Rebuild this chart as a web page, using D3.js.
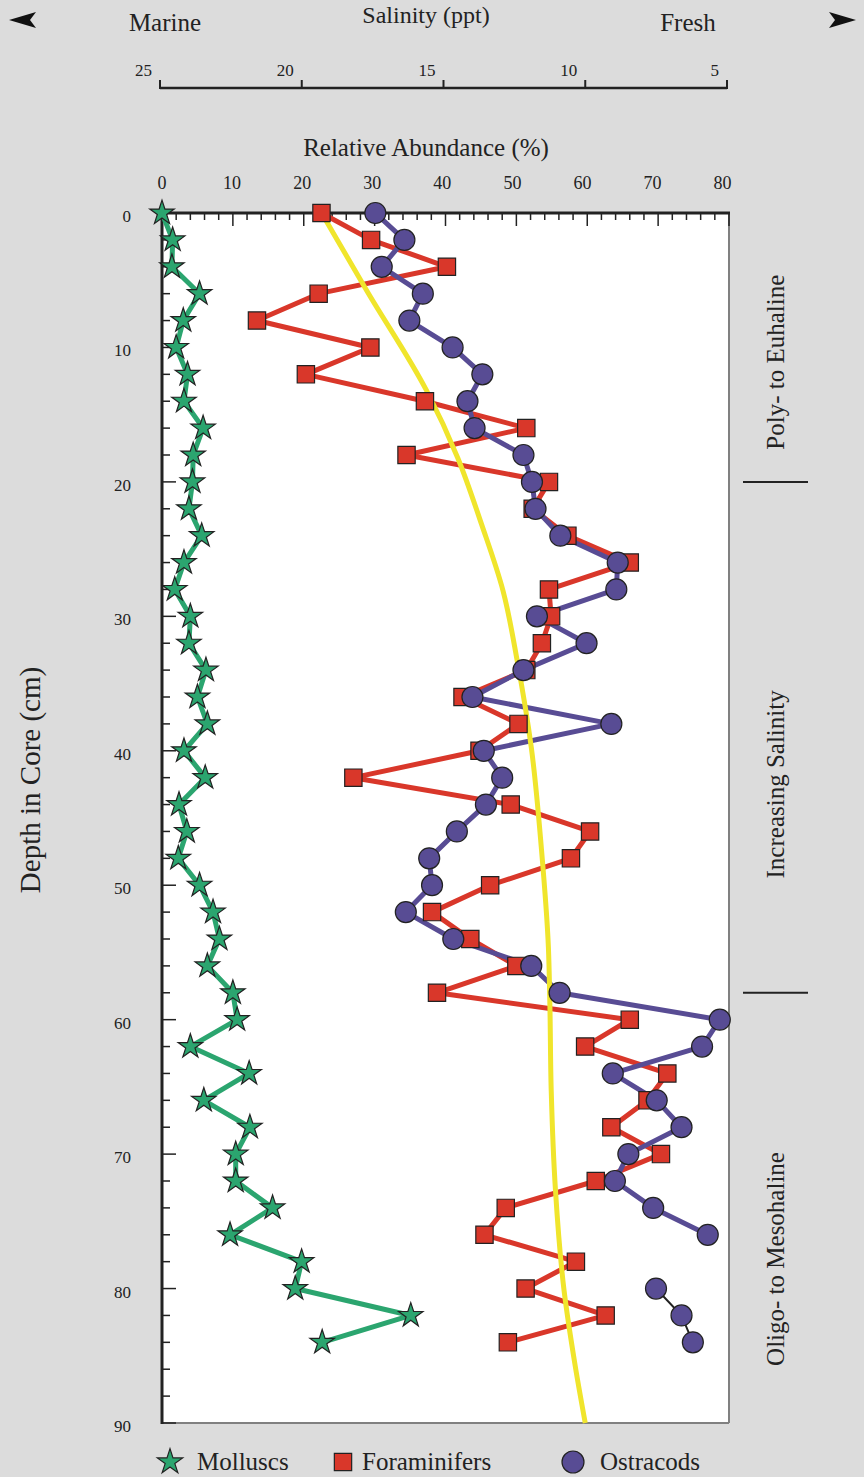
<!DOCTYPE html>
<html>
<head>
<meta charset="utf-8">
<script src="https://cdn.jsdelivr.net/npm/d3@7"></script>
<style>
  html, body { margin: 0; padding: 0; background: #dcdcdc; }
  svg { display: block; }
  text { font-family: "Liberation Serif", "Times New Roman", serif; fill: #222; }
</style>
</head>
<body>
<svg id="chart" width="864" height="1477"></svg>
<script>
// ---------------- DATA ----------------
const depths = [0,2,4,6,8,10,12,14,16,18,20,22,24,26,28,30,32,34,36,38,40,42,44,46,48,50,52,54,56,58,60,62,64,66,68,70,72,74,76,78,80,82,84];
const molluscs = [0,1.5,1.4,5.3,3.0,2.0,3.6,3.1,5.8,4.4,4.3,3.8,5.6,3.1,1.8,4.0,3.8,6.2,5.0,6.4,3.1,6.1,2.4,3.5,2.3,5.3,7.2,8.1,6.4,10.0,10.6,4.0,12.3,5.9,12.4,10.4,10.4,15.6,9.6,19.7,18.8,35.1,22.6];
const foraminifers = [22.5,29.5,40.2,22.1,13.4,29.4,20.3,37.1,51.4,34.5,54.6,52.3,57.2,66.0,54.6,54.9,53.6,51.4,42.4,50.3,44.8,27.0,49.2,60.4,57.7,46.3,38.1,43.5,50.0,38.8,66.0,59.7,71.3,68.5,63.4,70.4,61.2,48.5,45.5,58.4,51.3,62.6,48.8];
const ostracods = [30.1,34.2,31.0,36.8,34.9,41.0,45.2,43.1,44.1,51.0,52.2,52.7,56.2,64.3,64.1,52.9,59.9,51.0,43.8,63.4,45.4,48.0,45.7,41.6,37.7,38.1,34.4,41.1,52.1,56.1,78.7,76.2,63.6,69.8,73.3,65.8,63.9,69.3,77.0,null,69.7,73.3,74.9];
// salinity trend curve (yellow), read against the salinity axis
const trendDepths = [0,5.8,13.2,18.2,23.2,28.1,33.3,39.8,47.2,54.6,58.6,65.3,72.7,80.1,85.8,90];
const trendSalinity = [19.3,17.7,15.6,14.5,13.65,12.9,12.4,11.9,11.55,11.3,11.25,11.2,11.05,10.75,10.35,10.0];

const abundanceTicks = [0,10,20,30,40,50,60,70,80];
const depthTicks = [0,10,20,30,40,50,60,70,80,90];
const salinityTicks = [25,20,15,10,5];
const zoneLabels = ["Poly- to Euhaline","Increasing Salinity","Oligo- to Mesohaline"];
const zoneCenters = [11.1, 42.5, 77.8];   // depth centre of each label
const zoneBreaks = [20, 58];              // depth of the separator bars
const seriesNames = ["Molluscs","Foraminifers","Ostracods"];

// ---------------- LAYOUT ----------------
const colors = { moll: "#2ba56f", foram: "#d9372a", ostr: "#584c94", trend: "#f0e52c", ink: "#222" };
const svg = d3.select("#chart");
const L = 162, R = 729, T = 213, B = 1423;
const x = d3.scaleLinear().domain([0,80]).range([L,R]);
const y = d3.scaleLinear().domain([0,90]).range([T,B]);
const xs = d3.scaleLinear().domain([25,5]).range([160,727]);

svg.append("rect").attr("width",864).attr("height",1477).attr("fill","#dcdcdc");
svg.append("rect").attr("x",L).attr("y",T).attr("width",R-L).attr("height",B-T).attr("fill","#fff");

// frame: right & bottom grey
svg.append("line").attr("x1",R).attr("x2",R).attr("y1",T).attr("y2",B).attr("stroke","#808080").attr("stroke-width",2);
svg.append("line").attr("x1",L).attr("x2",R).attr("y1",B).attr("y2",B).attr("stroke","#808080").attr("stroke-width",2);

// top axis ticks (every 2, major every 10)
const topMinor = d3.range(0,81,2);
svg.append("g").selectAll("line").data(topMinor).join("line")
  .attr("x1",d=>x(d)).attr("x2",d=>x(d)).attr("y1",T)
  .attr("y2",d=> d%10===0 ? T+13 : T+7)
  .attr("stroke",colors.ink).attr("stroke-width",1.5);
// left axis ticks
const leftMinor = d3.range(0,91,2);
svg.append("g").selectAll("line").data(leftMinor).join("line")
  .attr("y1",d=>y(d)).attr("y2",d=>y(d)).attr("x1",L)
  .attr("x2",d=> d%10===0 ? L+14 : L+8)
  .attr("stroke",colors.ink).attr("stroke-width",1.5);

svg.append("line").attr("x1",L-1).attr("x2",R+1).attr("y1",T).attr("y2",T).attr("stroke",colors.ink).attr("stroke-width",3);
svg.append("line").attr("x1",L).attr("x2",L).attr("y1",T-1).attr("y2",B+1).attr("stroke",colors.ink).attr("stroke-width",3);

// tick labels
svg.append("g").selectAll("text").data(abundanceTicks).join("text")
  .attr("x",d=>x(d) - d*0.08).attr("y",189).attr("text-anchor","middle")
  .attr("font-size",18).text(d=>d);
svg.append("g").selectAll("text").data(depthTicks).join("text")
  .attr("x",131).attr("y",d=>y(d)+9).attr("text-anchor","end")
  .attr("font-size",17).text(d=>d);

svg.append("text").attr("x",426).attr("y",156).attr("text-anchor","middle")
  .attr("font-size",25).text("Relative Abundance (%)");
svg.append("text").attr("transform","translate(40,780) rotate(-90)").attr("text-anchor","middle")
  .attr("font-size",29).text("Depth in Core (cm)");

// salinity axis
svg.append("line").attr("x1",xs(25)).attr("x2",xs(5)).attr("y1",88).attr("y2",88).attr("stroke",colors.ink).attr("stroke-width",2.5);
svg.append("g").selectAll("line").data(salinityTicks).join("line")
  .attr("x1",d=>xs(d)).attr("x2",d=>xs(d)).attr("y1",80).attr("y2",89)
  .attr("stroke",colors.ink).attr("stroke-width",2);
svg.append("g").selectAll("text").data(salinityTicks).join("text")
  .attr("x",d=>xs(d)-8).attr("y",76).attr("text-anchor","end")
  .attr("font-size",17).text(d=>d);
svg.append("text").attr("x",426).attr("y",23).attr("text-anchor","middle").attr("font-size",24).text("Salinity (ppt)");
svg.append("text").attr("x",165).attr("y",31).attr("text-anchor","middle").attr("font-size",25).text("Marine");
svg.append("text").attr("x",688).attr("y",31).attr("text-anchor","middle").attr("font-size",25).text("Fresh");
// arrows
const arrow = "M0,0 L27,-8 L21,0 L27,8 Z";
svg.append("path").attr("d",arrow).attr("transform","translate(9,20)").attr("fill","#111");
svg.append("path").attr("d",arrow).attr("transform","translate(856,20) scale(-1,1)").attr("fill","#111");

// zone labels on the right
svg.append("g").selectAll("text").data(zoneLabels).join("text")
  .attr("transform",(d,i)=>`translate(784,${y(zoneCenters[i])}) rotate(-90)`)
  .attr("text-anchor","middle").attr("font-size",25).text(d=>d);
svg.append("g").selectAll("line").data(zoneBreaks).join("line")
  .attr("x1",743).attr("x2",808).attr("y1",d=>y(d)).attr("y2",d=>y(d))
  .attr("stroke",colors.ink).attr("stroke-width",2);

// ---------------- SERIES ----------------
const rows = depths.map((d,i)=>({d, m: molluscs[i], f: foraminifers[i], o: ostracods[i]}));
const mkLine = key => d3.line().defined(r=>r[key]!=null).x(r=>x(r[key])).y(r=>y(r.d));

const star = d3.symbol().type(d3.symbolStar).size(185);
const square = d3.symbol().type(d3.symbolSquare).size(300);

// molluscs
svg.append("path").datum(rows).attr("d",mkLine("m")).attr("fill","none")
  .attr("stroke",colors.moll).attr("stroke-width",5).attr("stroke-linejoin","round");
svg.append("g").selectAll("path").data(rows).join("path")
  .attr("d",star).attr("transform",r=>`translate(${x(r.m)},${y(r.d)})`)
  .attr("fill",colors.moll).attr("stroke","#222").attr("stroke-width",1.2);

// foraminifer & ostracod lines
svg.append("path").datum(rows).attr("d",mkLine("f")).attr("fill","none")
  .attr("stroke",colors.foram).attr("stroke-width",5).attr("stroke-linejoin","round");
const gap = ostracods.indexOf(null);
svg.append("path").datum(rows.slice(0,gap)).attr("d",mkLine("o")).attr("fill","none")
  .attr("stroke",colors.ostr).attr("stroke-width",5).attr("stroke-linejoin","round");
svg.append("path").datum(rows.slice(gap+1)).attr("d",mkLine("o")).attr("fill","none")
  .attr("stroke","#222").attr("stroke-width",2);

// salinity trend curve
const trendRows = trendDepths.map((d,i)=>({d, s: trendSalinity[i]}));
svg.append("path").datum(trendRows)
  .attr("d", d3.line().curve(d3.curveMonotoneY).x(r=>xs(r.s)).y(r=>y(r.d)))
  .attr("fill","none").attr("stroke",colors.trend).attr("stroke-width",5);

svg.append("g").selectAll("path").data(rows).join("path")
  .attr("d",square).attr("transform",r=>`translate(${x(r.f)},${y(r.d)})`)
  .attr("fill",colors.foram).attr("stroke","#222").attr("stroke-width",1.2);
svg.append("g").selectAll("circle").data(rows.filter(r=>r.o!=null)).join("circle")
  .attr("cx",r=>x(r.o)).attr("cy",r=>y(r.d)).attr("r",10.5)
  .attr("fill",colors.ostr).attr("stroke","#222").attr("stroke-width",1.2);

// ---------------- LEGEND ----------------
const lg = svg.append("g");
lg.append("path").attr("d",d3.symbol().type(d3.symbolStar).size(200)).attr("transform","translate(170,1462)")
  .attr("fill",colors.moll).attr("stroke","#222").attr("stroke-width",1.2);
lg.append("path").attr("d",d3.symbol().type(d3.symbolSquare).size(300)).attr("transform","translate(343,1462)")
  .attr("fill",colors.foram).attr("stroke","#222").attr("stroke-width",1.2);
lg.append("circle").attr("cx",573).attr("cy",1462).attr("r",11)
  .attr("fill",colors.ostr).attr("stroke","#222").attr("stroke-width",1.2);
const legendX = [197,362,600];
lg.selectAll("text").data(seriesNames).join("text")
  .attr("x",(d,i)=>legendX[i]).attr("y",1470).attr("font-size",25).text(d=>d);
</script>
</body>
</html>
